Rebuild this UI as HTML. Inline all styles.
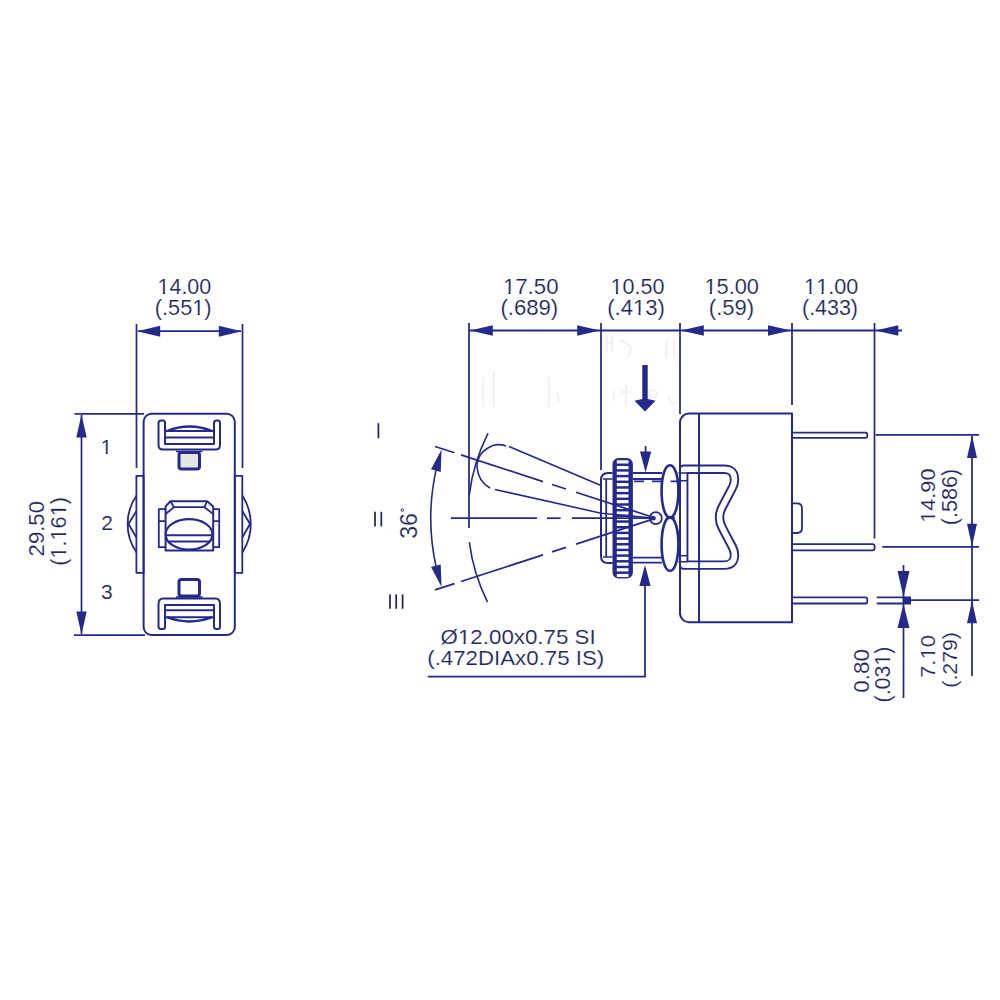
<!DOCTYPE html>
<html><head><meta charset="utf-8"><style>
html,body{margin:0;padding:0;background:#fff;}
svg{display:block;}
text{font-family:"Liberation Sans",sans-serif;font-kerning:none;fill:#23265c;stroke:#fff;stroke-width:0.15px;}
</style></head><body>
<svg width="1000" height="1000" viewBox="0 0 1000 1000">
<rect width="1000" height="1000" fill="#fff"/>
<g fill="none" stroke="#f1f1f3" stroke-width="2" stroke-linecap="round">
<path d="M607,336 L607,351 M607,343.5 L612,343.5 M612,336 L612,351"/>
<path d="M621,340 Q636,347 628,356"/>
<path d="M666.5,340 L666.5,357 M674.5,340 L674.5,357"/>
<path d="M483.2,378 L483.2,406 M493.7,372 L493.7,406 M549.2,378 L549.2,406 M557,393 L559,401"/>
<path d="M614,391 L614,400 M626,386 L626,405 M622,392 L630,392"/>
<circle cx="653" cy="394" r="4"/>
<path d="M669,398 Q671,407 676,402"/>
</g>
<g fill="none" stroke="#24298a" stroke-linejoin="round">
<line x1="136.50" y1="324.00" x2="136.50" y2="468.00" stroke-width="1.75" />
<line x1="242.50" y1="324.00" x2="242.50" y2="468.00" stroke-width="1.75" />
<line x1="138.00" y1="331.20" x2="241.00" y2="331.20" stroke-width="1.75" />
<line x1="74.50" y1="413.80" x2="144.00" y2="413.80" stroke-width="1.75" />
<line x1="74.00" y1="635.00" x2="145.00" y2="635.00" stroke-width="1.75" />
<line x1="81.50" y1="415.00" x2="81.50" y2="634.00" stroke-width="1.75" />
<rect x="143.6" y="413.8" width="91.2" height="221.2" rx="8" stroke-width="2"/>
<rect x="136.4" y="475.8" width="7.2" height="97" stroke-width="1.8"/>
<rect x="234.8" y="475.8" width="7.5" height="97" stroke-width="1.8"/>
<path d="M136.4,495.8 A49.6,49.6 0 0 0 136.4,552.2 M136.4,511 L128.5,524 L136.4,537.5" stroke-width="1.8"/>
<path d="M242.3,495.6 A52,52 0 0 1 242.3,552.6 M242.3,511 L250,524 L242.3,537.5" stroke-width="1.8"/>
<path d="M158.5,423 Q158.5,420.5 161,420.5 L163,420.5 Q165,420.5 165,423 L165,444 L214,444 L214,423 Q214,420.5 216.5,420.5 L218,420.5 Q220,420.5 220,423 L220,445 Q220,449.5 215.5,449.5 L163,449.5 Q158.5,449.5 158.5,445 Z" stroke-width="2"/>
<path d="M165.5,431 L213.5,431 M165.5,437.6 L213.5,437.6" stroke-width="2"/>
<path d="M167,431 Q189.5,422 212,431" stroke-width="2.4"/>
<rect x="179" y="452.5" width="20.5" height="16.5" rx="2.5" fill="#e6e6e6" stroke-width="3"/>
<line x1="176.00" y1="451.50" x2="202.50" y2="451.50" stroke-width="1.50" />
<path d="M158.5,626.5 Q158.5,629 161,629 L163,629 Q165,629 165,626.5 L165,605 L214,605 L214,626.5 Q214,629 216.5,629 L218,629 Q220,629 220,626.5 L220,604 Q220,598.5 215.5,598.5 L163,598.5 Q158.5,598.5 158.5,604 Z" stroke-width="2"/>
<path d="M165.5,617.2 L213.5,617.2 M165.5,610.3 L213.5,610.3" stroke-width="2"/>
<path d="M167,617.2 Q189.5,625.8 212,617.2" stroke-width="2.4"/>
<rect x="179" y="579.5" width="20.5" height="16.5" rx="2.5" fill="#fff" stroke-width="3"/>
<line x1="176.00" y1="597.00" x2="202.50" y2="597.00" stroke-width="1.50" />
<path d="M165.6,509.2 L158.8,509.2 L158.8,547.2 L165.6,547.2 M158.8,521.2 L165.6,521.2" stroke-width="1.8"/>
<path d="M213.2,509.2 L219.2,509.2 L219.2,547.2 L213.2,547.2 M213.2,521.2 L219.2,521.2" stroke-width="1.8"/>
<path d="M165.6,550.4 L165.6,506.4 L170.4,501.2 L207.2,501.2 L213.2,506.4 L213.2,550.4 Z" stroke-width="2"/>
<path d="M165.6,514 L174,507.2 L204.4,507.2 L213.2,514 M170.4,501.2 L174,507.2 M207.2,501.2 L204.4,507.2" stroke-width="1.8"/>
<ellipse cx="189" cy="534.4" rx="23.4" ry="15.2" stroke-width="2.2"/>
<path d="M168,519.5" stroke-width="3"/>
<path d="M166.5,535.2 L211.5,535.2 M167.5,541.6 L210.5,541.6" stroke-width="2"/>
</g>
<polygon points="137.20,331.20 160.20,325.70 160.20,336.70" fill="#24298a" stroke="none"/>
<polygon points="241.80,331.20 218.80,336.70 218.80,325.70" fill="#24298a" stroke="none"/>
<polygon points="81.50,414.50 86.70,437.50 76.30,437.50" fill="#24298a" stroke="none"/>
<polygon points="81.50,634.50 76.30,611.50 86.70,611.50" fill="#24298a" stroke="none"/>
<g fill="none" stroke="#24298a" stroke-linejoin="round">
<line x1="470.00" y1="330.50" x2="902.00" y2="330.50" stroke-width="1.80" />
<line x1="469.00" y1="323.00" x2="469.00" y2="528.00" stroke-width="1.75" />
<line x1="601.00" y1="323.00" x2="601.00" y2="470.00" stroke-width="1.75" />
<line x1="680.00" y1="323.00" x2="680.00" y2="414.00" stroke-width="1.75" />
<line x1="792.00" y1="323.00" x2="792.00" y2="405.00" stroke-width="1.75" />
<line x1="874.50" y1="323.00" x2="874.50" y2="538.60" stroke-width="1.75" />
<path d="M680,422.6 A9,9 0 0 1 689,413.6 L792,413.6 L792,622.3 L689,622.3 A9,9 0 0 1 680,613.3 Z" stroke-width="2"/>
<line x1="699.00" y1="413.60" x2="699.00" y2="622.30" stroke-width="1.80" />
<path d="M792,503.4 L797,503.4 Q802,503.4 802,508.4 L802,528 Q802,533 797,533 L792,533" stroke-width="1.8"/>
<path d="M792,432.6 L865.5,432.6 Q867.3,432.6 867.3,434.4 L867.3,436 Q867.3,437.8 865.5,437.8 L792,437.8" stroke-width="1.8"/>
<path d="M792,544.1 L872.6,544.1 Q874.6,544.1 874.6,546.1 L874.6,548.3 Q874.6,550.3 872.6,550.3 L792,550.3" stroke-width="1.8"/>
<path d="M792,597.4 L865.3,597.4 Q867.3,597.4 867.3,599.4 L867.3,601.5 Q867.3,603.5 865.3,603.5 L792,603.5" stroke-width="1.8"/>
<path d="M876.8,597.4 L911,597.4 M876.8,603.5 L911,603.5" stroke-width="1.8"/>
<path d="M683.7,469.3 L724,469.3 Q734.5,469.3 734.5,479.5 Q734.5,484 732.5,487.5 L722,507.5 Q719.5,512.5 719.5,517.4 Q719.5,522.3 722,527.3 L732.5,547.3 Q734.5,551 734.5,555 Q734.5,565.1 724,565.1 L683.7,565.1 Z" stroke-width="9.4"/>
<path d="M683.7,469.3 L724,469.3 Q734.5,469.3 734.5,479.5 Q734.5,484 732.5,487.5 L722,507.5 Q719.5,512.5 719.5,517.4 Q719.5,522.3 722,527.3 L732.5,547.3 Q734.5,551 734.5,555 Q734.5,565.1 724,565.1 L683.7,565.1 Z" stroke="#fff" stroke-width="5.6"/>
<line x1="680.00" y1="421.00" x2="680.00" y2="615.00" stroke-width="2.00" />
<line x1="699.00" y1="413.60" x2="699.00" y2="622.30" stroke-width="1.80" />
<path d="M678.4,473 L687.4,473 M678.4,480.8 L687.4,480.8 M678.4,555.8 L687.4,555.8 M678.4,561.8 L687.4,561.8" stroke-width="1.6"/>
<path d="M612.5,473 L608,473 Q601,473 601,480 L601,556 Q601,563 608,563 L612.5,563" stroke-width="2"/>
<line x1="606.20" y1="479.00" x2="606.20" y2="557.00" stroke-width="1.75" />
<path d="M603,479 L612.5,479 M603,557 L612.5,557" stroke-width="1.6"/>
<path d="M633,473 L662,473 M633,479 L662,479 M633,557.6 L662,557.6 M633,562.6 L662,562.6" stroke-width="1.8"/>
<path d="M634,481.4 L644,481.4 M652,481.4 L661,481.4 M670.6,481.4 L679,481.4" stroke-width="1.8"/>
<path d="M670,465.2 C675.5,465.2 678.4,478 678.4,491 C678.4,504 675.5,517.4 670,517.4 C664.5,517.4 661.6,504 661.6,491 C661.6,478 664.5,465.2 670,465.2 Z" stroke-width="2.6"/>
<path d="M670,517.4 C675.5,517.4 678.4,531 678.4,544.2 C678.4,557.5 675.5,570.8 670,570.8 C664.5,570.8 661.6,557.5 661.6,544.2 C661.6,531 664.5,517.4 670,517.4 Z" stroke-width="2.6"/>
<line x1="666.40" y1="517.60" x2="674.80" y2="517.60" stroke-width="1.75" />
<rect x="612.5" y="458" width="20.4" height="120.4" rx="6" fill="#24298a" stroke="none"/>
<rect x="616.8" y="460.30" width="11.7" height="3.2" fill="#fff" stroke="none"/>
<rect x="616.8" y="465.98" width="11.7" height="3.2" fill="#fff" stroke="none"/>
<rect x="616.8" y="471.66" width="11.7" height="3.2" fill="#fff" stroke="none"/>
<rect x="616.8" y="477.34" width="11.7" height="3.2" fill="#fff" stroke="none"/>
<rect x="616.8" y="483.02" width="11.7" height="3.2" fill="#fff" stroke="none"/>
<rect x="616.8" y="488.70" width="11.7" height="3.2" fill="#fff" stroke="none"/>
<rect x="616.8" y="494.38" width="11.7" height="3.2" fill="#fff" stroke="none"/>
<rect x="616.8" y="500.06" width="11.7" height="3.2" fill="#fff" stroke="none"/>
<rect x="616.8" y="505.74" width="11.7" height="3.2" fill="#fff" stroke="none"/>
<rect x="616.8" y="511.42" width="11.7" height="3.2" fill="#fff" stroke="none"/>
<rect x="616.8" y="517.10" width="11.7" height="3.2" fill="#fff" stroke="none"/>
<rect x="616.8" y="522.78" width="11.7" height="3.2" fill="#fff" stroke="none"/>
<rect x="616.8" y="528.46" width="11.7" height="3.2" fill="#fff" stroke="none"/>
<rect x="616.8" y="534.14" width="11.7" height="3.2" fill="#fff" stroke="none"/>
<rect x="616.8" y="539.82" width="11.7" height="3.2" fill="#fff" stroke="none"/>
<rect x="616.8" y="545.50" width="11.7" height="3.2" fill="#fff" stroke="none"/>
<rect x="616.8" y="551.18" width="11.7" height="3.2" fill="#fff" stroke="none"/>
<rect x="616.8" y="556.86" width="11.7" height="3.2" fill="#fff" stroke="none"/>
<rect x="616.8" y="562.54" width="11.7" height="3.2" fill="#fff" stroke="none"/>
<rect x="616.8" y="568.22" width="11.7" height="3.2" fill="#fff" stroke="none"/>
<rect x="616.8" y="573.90" width="11.7" height="3.2" fill="#fff" stroke="none"/>
<circle cx="655.8" cy="518.2" r="6" stroke-width="1.8"/>
<circle cx="653.5" cy="518.2" r="2.3" fill="#24298a" stroke="none"/>
<line x1="451.00" y1="518.20" x2="537.00" y2="518.20" stroke-width="1.75" />
<line x1="547.00" y1="518.20" x2="560.60" y2="518.20" stroke-width="1.75" />
<line x1="572.00" y1="518.20" x2="653.00" y2="518.20" stroke-width="1.75" />
</g>
<polygon points="469.80,330.50 492.80,325.30 492.80,335.70" fill="#24298a" stroke="none"/>
<polygon points="600.20,330.50 577.20,335.70 577.20,325.30" fill="#24298a" stroke="none"/>
<polygon points="680.80,330.50 703.80,325.30 703.80,335.70" fill="#24298a" stroke="none"/>
<polygon points="791.00,330.50 768.00,335.70 768.00,325.30" fill="#24298a" stroke="none"/>
<polygon points="875.30,330.50 898.30,325.30 898.30,335.70" fill="#24298a" stroke="none"/>
<g fill="none" stroke="#24298a">
<line x1="875.70" y1="434.80" x2="979.00" y2="434.80" stroke-width="1.75" />
<line x1="882.30" y1="546.80" x2="979.00" y2="546.80" stroke-width="1.75" />
<line x1="911.00" y1="600.20" x2="979.00" y2="600.20" stroke-width="1.75" />
<line x1="972.00" y1="436.00" x2="972.00" y2="546.00" stroke-width="1.75" />
<line x1="972.00" y1="547.00" x2="972.00" y2="676.00" stroke-width="1.75" />
<line x1="903.50" y1="565.00" x2="903.50" y2="597.00" stroke-width="1.75" />
<line x1="903.50" y1="604.00" x2="903.50" y2="698.00" stroke-width="1.75" />
<line x1="645.00" y1="586.00" x2="645.00" y2="676.60" stroke-width="1.75" />
<line x1="427.80" y1="676.60" x2="645.80" y2="676.60" stroke-width="1.75" />
<line x1="645.60" y1="446.00" x2="645.60" y2="455.00" stroke-width="1.75" />
</g>
<polygon points="972.00,435.60 977.00,458.10 967.00,458.10" fill="#24298a" stroke="none"/>
<polygon points="972.00,546.20 967.00,523.70 977.00,523.70" fill="#24298a" stroke="none"/>
<polygon points="972.00,600.80 977.00,623.30 967.00,623.30" fill="#24298a" stroke="none"/>
<polygon points="903.50,597.00 897.50,571.00 909.50,571.00" fill="#24298a" stroke="none"/>
<rect x="902.5" y="597.6" width="8.5" height="5.6" fill="#24298a"/>
<polygon points="903.50,604.00 909.50,628.00 897.50,628.00" fill="#24298a" stroke="none"/>
<polygon points="645.60,472.40 640.00,451.40 651.20,451.40" fill="#24298a" stroke="none"/>
<polygon points="645.00,565.00 650.60,586.00 639.40,586.00" fill="#24298a" stroke="none"/>
<polygon points="642.3,365 647.7,365 647.7,399 655.5,400.8 645,411.5 634.5,400.8 642.3,399" fill="#24298a"/>
<g fill="none" stroke="#24298a" stroke-width="1.6">
<line x1="435.00" y1="446.46" x2="454.50" y2="452.79" stroke-width="1.75" />
<line x1="435.00" y1="589.94" x2="454.50" y2="583.61" stroke-width="1.75" />
<line x1="461.00" y1="454.91" x2="543.00" y2="481.55" stroke-width="1.75" />
<line x1="461.00" y1="581.49" x2="543.00" y2="554.85" stroke-width="1.75" />
<line x1="552.00" y1="484.47" x2="566.00" y2="489.02" stroke-width="1.75" />
<line x1="552.00" y1="551.93" x2="566.00" y2="547.38" stroke-width="1.75" />
<line x1="576.00" y1="492.27" x2="653.00" y2="517.29" stroke-width="1.75" />
<line x1="576.00" y1="544.13" x2="653.00" y2="519.11" stroke-width="1.75" />
<path d="M509,446.5 L601,485.6"/>
<path d="M495,489.5 L601,513.2 L653,518"/>
<path d="M506,446 Q499,443.5 493,445.5 Q477,452 477,467 Q478,481 490,488"/>
<path d="M487.99,433.44 A188.0,188.0 0 0 0 469.20,495.29"/>
<path d="M469.32,542.09 A188.0,188.0 0 0 0 487.55,602.09"/>
<path d="M436.57,467.59 A225.0,225.0 0 0 0 436.57,568.81"/>
</g>
<polygon points="441.57,449.42 440.71,471.95 431.05,469.36" fill="#24298a" stroke="none"/>
<polygon points="441.57,586.98 431.05,567.04 440.71,564.45" fill="#24298a" stroke="none"/>
<text x="184.40" y="294.40" font-size="21.5" text-anchor="middle" textLength="53.7" lengthAdjust="spacingAndGlyphs" >14.00</text>
<text x="530.70" y="294.00" font-size="21.7" text-anchor="middle" textLength="55.6" lengthAdjust="spacingAndGlyphs" >17.50</text>
<text x="529.30" y="314.80" font-size="21.7" text-anchor="middle" textLength="57.8" lengthAdjust="spacingAndGlyphs" >(.689)</text>
<text x="637.60" y="294.00" font-size="21.7" text-anchor="middle" textLength="54.0" lengthAdjust="spacingAndGlyphs" >10.50</text>
<text x="636.05" y="314.80" font-size="21.7" text-anchor="middle" textLength="57.6" lengthAdjust="spacingAndGlyphs" >(.413)</text>
<text x="731.70" y="294.00" font-size="21.7" text-anchor="middle" textLength="54.6" lengthAdjust="spacingAndGlyphs" >15.00</text>
<text x="731.45" y="314.80" font-size="21.7" text-anchor="middle" textLength="45.3" lengthAdjust="spacingAndGlyphs" >(.59)</text>
<text x="831.20" y="293.80" font-size="21.7" text-anchor="middle" textLength="54.2" lengthAdjust="spacingAndGlyphs" >11.00</text>
<text x="830.00" y="314.80" font-size="21.7" text-anchor="middle" textLength="56.0" lengthAdjust="spacingAndGlyphs" >(.433)</text>
<text x="106.30" y="453.50" font-size="21.0" text-anchor="middle" >1</text>
<text x="107.00" y="530.00" font-size="21.0" text-anchor="middle" >2</text>
<text x="106.90" y="599.00" font-size="21.0" text-anchor="middle" >3</text>
<text x="44.00" y="528.70" font-size="22.6" text-anchor="middle" textLength="55.4" lengthAdjust="spacingAndGlyphs" transform="rotate(-90 44.00 528.70)" >29.50</text>
<text x="66.00" y="531.40" font-size="22.2" text-anchor="middle" textLength="68.8" lengthAdjust="spacingAndGlyphs" transform="rotate(-90 66.00 531.40)" >(1.161)</text>
<text x="934.90" y="495.70" font-size="20.8" text-anchor="middle" textLength="54.3" lengthAdjust="spacingAndGlyphs" transform="rotate(-90 934.90 495.70)" >14.90</text>
<text x="956.80" y="497.00" font-size="21.4" text-anchor="middle" textLength="56.6" lengthAdjust="spacingAndGlyphs" transform="rotate(-90 956.80 497.00)" >(.586)</text>
<text x="869.10" y="670.75" font-size="22.0" text-anchor="middle" textLength="43.8" lengthAdjust="spacingAndGlyphs" transform="rotate(-90 869.10 670.75)" >0.80</text>
<text x="890.50" y="674.55" font-size="21.6" text-anchor="middle" textLength="55.8" lengthAdjust="spacingAndGlyphs" transform="rotate(-90 890.50 674.55)" >(.031)</text>
<text x="935.40" y="656.50" font-size="19.8" text-anchor="middle" textLength="43.0" lengthAdjust="spacingAndGlyphs" transform="rotate(-90 935.40 656.50)" >7.10</text>
<text x="956.80" y="659.85" font-size="19.8" text-anchor="middle" textLength="55.6" lengthAdjust="spacingAndGlyphs" transform="rotate(-90 956.80 659.85)" >(.279)</text>
<text x="417.40" y="525.90" font-size="23.5" text-anchor="middle" textLength="25.8" lengthAdjust="spacingAndGlyphs" transform="rotate(-90 417.40 525.90)" >36</text>
<circle cx="402.3" cy="510.1" r="1.3" fill="none" stroke="#23265c" stroke-width="0.9"/>
<text x="518.15" y="644.30" font-size="20.8" text-anchor="middle" textLength="155.1" lengthAdjust="spacingAndGlyphs" >&#216;12.00x0.75 SI</text>
<text x="515.75" y="665.40" font-size="20.8" text-anchor="middle" textLength="177.0" lengthAdjust="spacingAndGlyphs" >(.472DIAx0.75 IS)</text>
<g stroke="#23265c" stroke-width="1.6">
<line x1="378.40" y1="423.20" x2="378.40" y2="438.20" stroke-width="1.75" />
<line x1="375.00" y1="511.80" x2="375.00" y2="526.40" stroke-width="1.75" />
<line x1="381.30" y1="511.80" x2="381.30" y2="526.40" stroke-width="1.75" />
<line x1="390.00" y1="594.40" x2="390.00" y2="608.80" stroke-width="1.75" />
<line x1="396.20" y1="594.40" x2="396.20" y2="608.80" stroke-width="1.75" />
<line x1="402.60" y1="594.40" x2="402.60" y2="608.80" stroke-width="1.75" />
</g>
<text x="183.20" y="315.40" font-size="21.5" text-anchor="middle" textLength="56.8" lengthAdjust="spacingAndGlyphs" >(.551)</text>
<g><rect x="158.39" y="291.39" width="4.48" height="4.41" fill="#fff"/><rect x="164.96" y="291.39" width="4.30" height="4.41" fill="#fff"/></g>
<g><rect x="503.76" y="290.98" width="4.63" height="4.42" fill="#fff"/><rect x="510.56" y="290.98" width="4.45" height="4.42" fill="#fff"/></g>
<g><rect x="611.44" y="290.98" width="4.50" height="4.42" fill="#fff"/><rect x="618.04" y="290.98" width="4.32" height="4.42" fill="#fff"/></g>
<g><rect x="633.83" y="311.78" width="4.60" height="4.42" fill="#fff"/><rect x="640.58" y="311.78" width="4.42" height="4.42" fill="#fff"/></g>
<g><rect x="705.25" y="290.98" width="4.55" height="4.42" fill="#fff"/><rect x="711.92" y="290.98" width="4.37" height="4.42" fill="#fff"/></g>
<g><rect x="804.94" y="290.78" width="4.52" height="4.42" fill="#fff"/><rect x="811.57" y="290.78" width="4.34" height="4.42" fill="#fff"/></g>
<g><rect x="816.97" y="290.78" width="4.52" height="4.42" fill="#fff"/><rect x="823.61" y="290.78" width="4.34" height="4.42" fill="#fff"/></g>
<g><rect x="101.27" y="450.53" width="4.38" height="4.37" fill="#fff"/><rect x="107.70" y="450.53" width="4.21" height="4.37" fill="#fff"/></g>
<g transform="rotate(-90 66.00 531.40)"><rect x="39.66" y="528.34" width="4.54" height="4.46" fill="#fff"/><rect x="46.31" y="528.34" width="4.35" height="4.46" fill="#fff"/></g>
<g transform="rotate(-90 66.00 531.40)"><rect x="57.78" y="528.34" width="4.53" height="4.46" fill="#fff"/><rect x="64.42" y="528.34" width="4.35" height="4.46" fill="#fff"/></g>
<g transform="rotate(-90 66.00 531.40)"><rect x="81.92" y="528.34" width="4.54" height="4.46" fill="#fff"/><rect x="88.57" y="528.34" width="4.35" height="4.46" fill="#fff"/></g>
<g transform="rotate(-90 934.90 495.70)"><rect x="908.60" y="492.75" width="4.53" height="4.35" fill="#fff"/><rect x="915.24" y="492.75" width="4.35" height="4.35" fill="#fff"/></g>
<g transform="rotate(-90 890.50 674.55)"><rect x="900.22" y="671.54" width="4.46" height="4.41" fill="#fff"/><rect x="906.76" y="671.54" width="4.28" height="4.41" fill="#fff"/></g>
<g transform="rotate(-90 935.40 656.50)"><rect x="933.16" y="653.62" width="4.61" height="4.28" fill="#fff"/><rect x="939.93" y="653.62" width="4.43" height="4.28" fill="#fff"/></g>
<g><rect x="458.82" y="641.35" width="4.66" height="4.35" fill="#fff"/><rect x="465.66" y="641.35" width="4.47" height="4.35" fill="#fff"/></g>
<g><rect x="193.11" y="312.39" width="4.54" height="4.41" fill="#fff"/><rect x="199.76" y="312.39" width="4.36" height="4.41" fill="#fff"/></g>
</svg>
</body></html>
